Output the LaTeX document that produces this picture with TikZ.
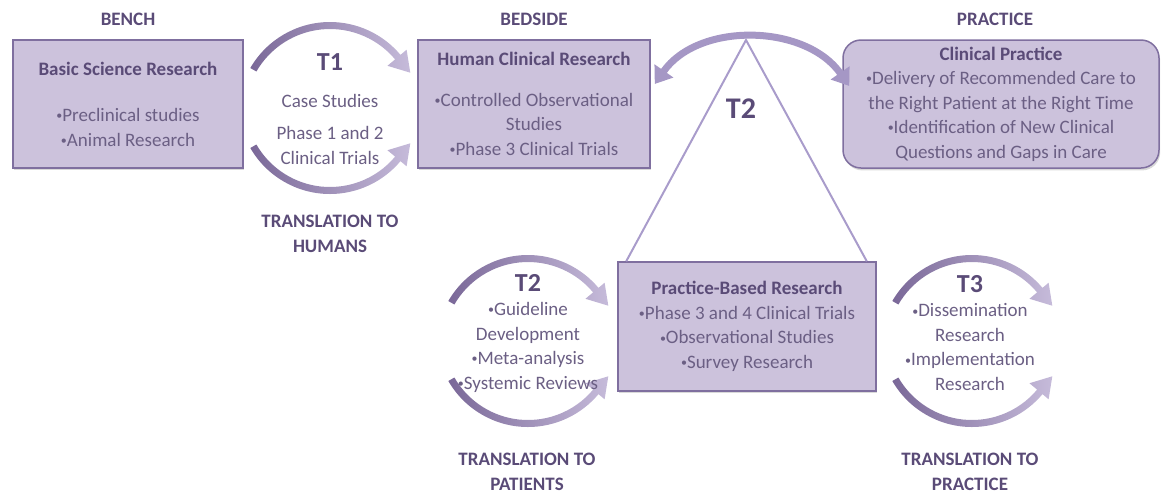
\documentclass[tikz,border=0pt]{standalone}
\usepackage{fontspec}
\setmainfont{Carlito}
\usetikzlibrary{arrows.meta,positioning,shadows}
\definecolor{tink}{HTML}{5A4B77}
\definecolor{tbody}{HTML}{6B5F84}
\definecolor{tfill}{HTML}{CCC2DC}
\definecolor{tframe}{HTML}{7F6F9F}
\definecolor{tturndark}{HTML}{7A6898}
\definecolor{tturnlight}{HTML}{C6BBDA}
\definecolor{tbridge}{HTML}{A597C5}
\definecolor{trim}{HTML}{A99CCB}
\newcommand{\itemdot}{\raisebox{0.9pt}{\fontsize{6}{6}\selectfont•}}
\tikzset{
  every picture/.style={font=\fontsize{9.5}{12.25}\selectfont,text=tbody},
  stage/.style={draw=tframe,fill=tfill,line width=0.75pt,align=center,
    minimum width=115pt,minimum height=64pt,inner sep=2pt,
    drop shadow={opacity=0.3,shadow xshift=0.6pt,shadow yshift=-1.2pt}},
  stagehead/.style={font=\fontsize{9.5}{12.25}\selectfont\bfseries,text=tink,
    inner sep=0pt,align=center},
  tlabel/.style={font=\fontsize{13}{15}\selectfont\bfseries,text=tink},
  turn/.style={left color=tturndark,right color=tturnlight},
  bridge/.style={draw=tbridge,line width=3.5pt,
    {Triangle[width=11pt,length=8pt]}-{Triangle[width=11pt,length=8pt]}},
  rim/.style={draw=trim,line width=1pt},
}
% pair of curved arrows round a translation step, #1 = centre
\newcommand{\turnarrows}[1]{%
  \begin{scope}[shift={(#1)}]
    \begin{scope}[yshift=-3pt]
      \shade[turn] (150:92) arc[start angle=150,end angle=40,radius=92]
        -- (40:100) -- (80.3,41.3) -- (40:75) -- (40:85)
        arc[start angle=40,end angle=150,radius=85] -- cycle;
    \end{scope}
    \begin{scope}[yshift=3pt]
      \shade[turn] (-150:92) arc[start angle=-150,end angle=-40,radius=92]
        -- (-40:100) -- (80.3,-41.3) -- (-40:75) -- (-40:85)
        arc[start angle=-40,end angle=-150,radius=85] -- cycle;
    \end{scope}
  \end{scope}}

\begin{document}
\begin{tikzpicture}[x=0.5pt,y=0.5pt]
  \path[use as bounding box] (0,0) rectangle (1162,-494);

  % research stages
  \node[stage] (bsr) at (128,-104)
    {\textbf{\color{tink}Basic Science Research}\\[11pt]
     \itemdot Preclinical studies\\\itemdot Animal Research};
  \node[stage,minimum width=116pt] (hcr) at (534,-104)
    {\textbf{\color{tink}Human Clinical Research}\\[8pt]
     \itemdot Controlled Observational\\Studies\\\itemdot Phase 3 Clinical Trials};
  \node[stage,minimum width=158pt,rounded corners=9pt] (cp) at (1001,-104)
    {\textbf{\color{tink}Clinical Practice}\\
     \itemdot Delivery of Recommended Care to\\the Right Patient at the Right Time\\
     \itemdot Identification of New Clinical\\Questions and Gaps in Care};
  \node[stage,minimum width=129pt,minimum height=64.5pt] (ppr) at (747,-326.5)
    {\textbf{\color{tink}Practice-Based Research}\\
     \itemdot Phase 3 and 4 Clinical Trials\\\itemdot Observational Studies\\
     \itemdot Survey Research};

  \node[stagehead,above=6.5pt of bsr] (benchhead) {BENCH};
  \node[stagehead,above=6.5pt of hcr] (bedsidehead) {BEDSIDE};
  \node[stagehead,above=6.5pt of cp,xshift=-3pt] (practicehead) {PRACTICE};

  % T2 spans bedside, practice and practice-based research
  \coordinate (apex) at (746,-40);
  \draw[rim] ([xshift=4.5pt]ppr.north west) -- (apex) -- ([xshift=-5pt]ppr.north east);
  \node[tlabel,font=\fontsize{15}{17}\selectfont\bfseries] (t2top) at (741,-109) {T2};
  \draw[bridge] ([shift={(4,20)}]hcr.east) to[out=55,in=125] ([shift={(7,18)}]cp.west);

  % translation cycles
  \coordinate (t1c) at (330,-108);
  \coordinate (t2c) at (528,-341);
  \coordinate (t3c) at (972,-341);
  \turnarrows{t1c}
  \turnarrows{t2c}
  \turnarrows{t3c}

  \node[align=center] (t1text) at (330,-109)
    {{\fontsize{13}{15}\selectfont\bfseries\color{tink}T1}\\[6pt]
     Case Studies\\[4pt]Phase 1 and 2\\Clinical Trials};
  \node[align=center] (t2text) at (528,-333)
    {{\fontsize{13}{15}\selectfont\bfseries\color{tink}T2}\\
     \itemdot Guideline\\Development\\\itemdot Meta-analysis\\\itemdot Systemic Reviews};
  \node[align=center] (t3text) at (970,-333)
    {{\fontsize{13}{15}\selectfont\bfseries\color{tink}T3}\\
     \itemdot Dissemination\\Research\\\itemdot Implementation\\Research};

  \node[stagehead] (t1note) at (330,-234) {TRANSLATION TO\\HUMANS};
  \node[stagehead] (t2note) at (527,-472) {TRANSLATION TO\\PATIENTS};
  \node[stagehead] (t3note) at (970,-472) {TRANSLATION TO\\PRACTICE};
\end{tikzpicture}
\end{document}
